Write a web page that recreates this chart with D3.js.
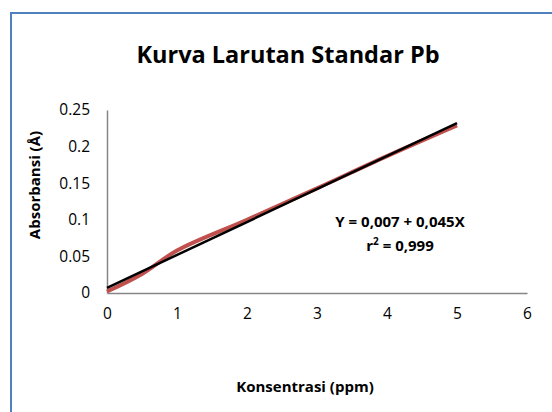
<!DOCTYPE html>
<html>
<head>
<meta charset="utf-8">
<script src="https://cdn.jsdelivr.net/npm/d3@7"></script>
<style>
  html, body { margin: 0; padding: 0; background: #fff; }
  svg { display: block; font-family: "Open Sans", Lato, sans-serif; }
</style>
</head>
<body>
<svg id="chart" width="552" height="412"></svg>
<script>
// ---- data ----
const concentration = [0, 0.5, 1, 2, 3, 4, 5];
const absorbance = [0.002, 0.026, 0.058, 0.100, 0.143, 0.187, 0.229];
const trendIntercept = 0.007;
const trendSlope = 0.045;
const xTicks = [0, 1, 2, 3, 4, 5, 6];
const yTicks = [0, 0.05, 0.1, 0.15, 0.2, 0.25];
const yTickLabels = ["0", "0.05", "0.1", "0.15", "0.2", "0.25"];
const titleText = "Kurva Larutan Standar Pb";
const xTitle = "Konsentrasi (ppm)";
const yTitle = "Absorbansi (Å)";
const eqLine1 = "Y = 0,007 + 0,045X";

const svg = d3.select("#chart");

// outer border
svg.append("rect")
  .attr("x", 11).attr("y", 13).attr("width", 600).attr("height", 500)
  .attr("fill", "none").attr("stroke", "#4F81BD").attr("stroke-width", 2);

const x = d3.scaleLinear().domain([0, 6]).range([107, 527]);
const y = d3.scaleLinear().domain([0, 0.25]).range([293, 110]);

// axes
const xAxis = svg.append("g").attr("transform", `translate(0,${y(0)})`)
  .call(d3.axisBottom(x).tickValues(xTicks).tickSize(0).tickPadding(15).tickFormat(d3.format("d")));
const yAxis = svg.append("g").attr("transform", `translate(${x(0)},0)`)
  .call(d3.axisLeft(y).tickValues(yTicks).tickSize(0).tickPadding(17)
    .tickFormat((d, i) => yTickLabels[i]));
[xAxis, yAxis].forEach(g => {
  g.select(".domain").attr("stroke", "#868686").attr("stroke-width", 1.5);
  g.selectAll("text").attr("font-size", 15.5).attr("fill", "#000")
    .attr("font-family", "'Open Sans', sans-serif");
});

// data series (smoothed)
const pts = concentration.map((c, i) => [c, absorbance[i]]);
svg.append("path")
  .datum(pts)
  .attr("fill", "none")
  .attr("stroke", "#C0504D")
  .attr("stroke-width", 4)
  .attr("d", d3.line().x(d => x(d[0])).y(d => y(d[1])).curve(d3.curveCatmullRom.alpha(0.5)));

// trend line
const xr = d3.extent(concentration);
svg.append("line")
  .attr("x1", x(xr[0])).attr("y1", y(trendIntercept + trendSlope * xr[0]))
  .attr("x2", x(xr[1])).attr("y2", y(trendIntercept + trendSlope * xr[1]))
  .attr("stroke", "#000").attr("stroke-width", 2.5);

// title
svg.append("text").attr("x", 288).attr("y", 63).attr("text-anchor", "middle")
  .attr("font-size", 23.5).attr("font-weight", "bold").text(titleText);

// axis titles
svg.append("text").attr("x", 305).attr("y", 392).attr("text-anchor", "middle")
  .attr("font-size", 15).attr("font-weight", "bold").text(xTitle);
svg.append("text").attr("transform", "translate(40,185) rotate(-90)")
  .attr("text-anchor", "middle").attr("font-size", 15).attr("font-weight", "bold").text(yTitle);

// equation
svg.append("text").attr("x", 400).attr("y", 227).attr("text-anchor", "middle")
  .attr("font-size", 15).attr("font-weight", "bold").text(eqLine1);
const r2 = svg.append("text").attr("x", 400).attr("y", 251).attr("text-anchor", "middle")
  .attr("font-size", 15).attr("font-weight", "bold");
r2.append("tspan").text("r");
r2.append("tspan").attr("dy", -6).attr("font-size", 10).text("2");
r2.append("tspan").attr("dy", 6).text(" = 0,999");
</script>
</body>
</html>
